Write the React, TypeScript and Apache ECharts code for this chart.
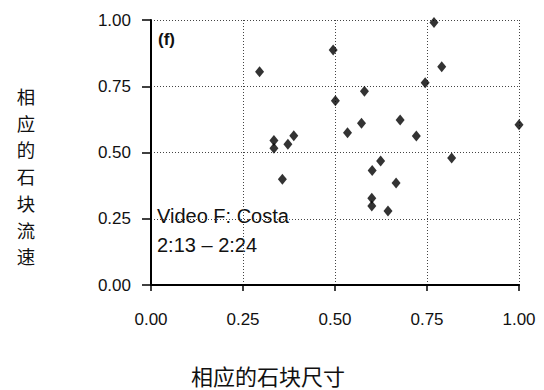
import React, { useEffect, useRef } from "react";
import * as echarts from "echarts";

const xValues = [0.295, 0.495, 0.501, 0.534, 0.334, 0.334, 0.372, 0.388, 0.357, 0.769, 0.79, 0.745, 0.58, 0.572, 0.677, 0.721, 1.0, 0.624, 0.601, 0.817, 0.666, 0.6, 0.6, 0.644];
const yValues = [0.805, 0.887, 0.695, 0.575, 0.545, 0.516, 0.531, 0.563, 0.399, 0.991, 0.824, 0.763, 0.731, 0.61, 0.623, 0.562, 0.605, 0.468, 0.432, 0.479, 0.385, 0.327, 0.298, 0.279];
const tickValues = [0, 0.25, 0.5, 0.75, 1.0];
const xAxisTitle = "相应的石块尺寸";
const yAxisTitle = "相应的石块流速";
const panelLabel = "(f)";
const noteLines = ["Video F: Costa", "2:13 – 2:24"];

export default function App() {
  const ref = useRef<HTMLDivElement>(null);
  useEffect(() => {
    if (!ref.current) return;
    const chart = echarts.init(ref.current, undefined, { renderer: "svg" });
    const latin = "'Liberation Sans', Arial, sans-serif";
    const cjk = "'Noto Sans CJK SC', sans-serif";
    const data = xValues.map((x, i) => [x, yValues[i]]);
    const fmt = (v: number) => (tickValues.includes(v) ? v.toFixed(2) : "");
    const yChars = yAxisTitle.split("").map((ch, i) => ({
      type: "text",
      x: 26,
      y: 96 + i * 26.7,
      style: {
        text: ch,
        fontFamily: cjk,
        fontSize: 18.4,
        fill: "#111",
        align: "center",
        verticalAlign: "middle",
      },
    }));
    chart.setOption({
      animation: false,
      backgroundColor: "#ffffff",
      grid: { left: 151, right: 25, top: 20, bottom: 105, containLabel: false, outerBoundsMode: "none" },
      xAxis: {
        type: "value",
        min: 0,
        max: 1,
        interval: 0.25,
        axisLine: { show: true, onZero: false, lineStyle: { color: "#000", width: 2 } },
        axisTick: { show: true, length: 6, lineStyle: { color: "#000", width: 1.5 } },
        axisLabel: { formatter: fmt, color: "#111", fontSize: 17, fontFamily: latin, margin: 26 },
        splitLine: { show: true, lineStyle: { color: "#444", width: 1, type: [1, 2] } },
      },
      yAxis: {
        type: "value",
        min: 0,
        max: 1,
        interval: 0.25,
        axisLine: { show: true, onZero: false, lineStyle: { color: "#000", width: 2 } },
        axisTick: { show: true, length: 9, lineStyle: { color: "#000", width: 1.5 } },
        axisLabel: { formatter: fmt, color: "#111", fontSize: 17, fontFamily: latin, margin: 20 },
        splitLine: { show: true, lineStyle: { color: "#444", width: 1, type: [1, 2] } },
      },
      graphic: [
        ...yChars,
        {
          type: "text",
          x: 268,
          y: 375,
          style: {
            text: xAxisTitle,
            fontFamily: cjk,
            fontSize: 22,
            fill: "#111",
            align: "center",
            verticalAlign: "middle",
          },
        },
        {
          type: "text",
          x: 158,
          y: 31,
          style: { text: panelLabel, fontFamily: latin, fontSize: 17, fontWeight: "bold", fill: "#111" },
        },
        {
          type: "text",
          x: 157,
          y: 206,
          style: { text: noteLines[0], fontFamily: latin, fontSize: 20, fill: "#111" },
        },
        {
          type: "text",
          x: 157,
          y: 235,
          style: { text: noteLines[1], fontFamily: latin, fontSize: 20, fill: "#111" },
        },
      ],
      series: [
        {
          type: "scatter",
          data,
          symbol: "diamond",
          symbolSize: [9, 11],
          itemStyle: { color: "#000" },
          z: 5,
        },
      ],
    });
    return () => chart.dispose();
  }, []);
  return <div ref={ref} style={{ width: 544, height: 390, position: "absolute", left: 0, top: 0 }} />;
}
